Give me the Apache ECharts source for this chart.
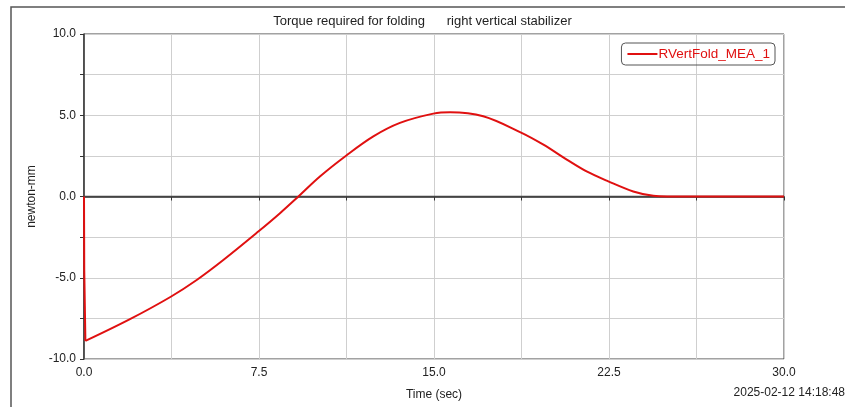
<!DOCTYPE html>
<html><head><meta charset="utf-8">
<script src="https://cdn.jsdelivr.net/npm/echarts@6/dist/echarts.min.js"></script>
<style>html,body{margin:0;padding:0;background:#fff}#c{width:845px;height:407px}</style>
</head><body><div id="c"></div>
<script>
const titleText = 'Torque required for folding      right vertical stabilizer';
const seriesName = 'RVertFold_MEA_1';
const xName = 'Time (sec)';
const yName = 'newton-mm';
const stamp = '2025-02-12 14:18:48';
// initial drop (drawn straight)
const spikeTime = [0, 0.01, 0.02, 0.06];
const spikeTorque = [0, -4.5, -4.6, -8.89];
// main response (drawn smooth)
const timeVals = [0.06, 1.97, 3.72, 4.83, 5.97, 7.47, 8.4, 9.19, 10.11, 11.23, 12.4, 13.54, 14.97, 15.69, 17.11, 18.71, 19.69, 20.69, 21.54, 22.47, 23.54, 24.4, 25.0, 30.0];
const torqueVals = [-8.89, -7.55, -6.17, -5.14, -3.91, -2.16, -1.03, 0, 1.23, 2.51, 3.70, 4.53, 5.10, 5.19, 4.94, 3.95, 3.19, 2.27, 1.54, 0.93, 0.31, 0.04, 0, 0];
const spikeData = spikeTime.map((t, i) => [t, spikeTorque[i]]);
const data = timeVals.map((t, i) => [t, torqueVals[i]]);
const font = 'Liberation Sans, Arial, sans-serif';
const red = '#e01010';
const chart = echarts.init(document.getElementById('c'));
chart.setOption({
  animation: false,
  title: { text: titleText, left: 'center', top: 10, textStyle: { fontFamily: font, fontSize: 13, fontWeight: 'normal', color: '#222' } },
  legend: {
    data: [seriesName], right: 70, top: 43, orient: 'vertical',
    borderColor: '#555', borderWidth: 1, borderRadius: 4, padding: [4, 5, 4, 6],
    itemWidth: 30, itemHeight: 2, itemGap: 2, icon: 'rect',
    textStyle: { fontFamily: font, fontSize: 13.5, color: red, padding: [0, 0, 0, -4] }
  },
  grid: { left: 84, right: 61, top: 34, bottom: 48, show: true, borderColor: '#444', borderWidth: 1 },
  xAxis: {
    type: 'value', min: 0, max: 30, interval: 3.75,
    name: xName, nameLocation: 'middle', nameGap: 30,
    nameTextStyle: { fontFamily: font, fontSize: 12, color: '#222' },
    axisLine: { show: true, lineStyle: { color: '#333', width: 1.5 } },
    axisTick: { show: true, length: 4, lineStyle: { color: '#333' } },
    axisLabel: { fontFamily: font, fontSize: 12, color: '#222', margin: 8,
      formatter: v => (Math.abs(v / 7.5 - Math.round(v / 7.5)) < 1e-6) ? v.toFixed(1) : '' },
    splitLine: { show: true, lineStyle: { color: '#cfcfcf', width: 1 } }
  },
  yAxis: {
    type: 'value', min: -10, max: 10, interval: 2.5,
    name: yName, nameLocation: 'middle', nameGap: 45, nameRotate: 90,
    nameTextStyle: { fontFamily: font, fontSize: 12, color: '#222' },
    axisLine: { show: true, lineStyle: { color: '#333', width: 1.5 } },
    axisTick: { show: true, length: 4, lineStyle: { color: '#333' } },
    axisLabel: { fontFamily: font, fontSize: 12, color: '#222', margin: 8,
      formatter: v => (Math.abs(v / 5 - Math.round(v / 5)) < 1e-6) ? v.toFixed(1) : '' },
    splitLine: { show: true, lineStyle: { color: '#cfcfcf', width: 1 } }
  },
  graphic: [
    { type: 'polyline', shape: { points: [[11, 410], [11, 7], [850, 7]] }, style: { stroke: '#555', lineWidth: 1.5, fill: null }, z: 100 },
    { type: 'text', right: 0, top: 387, style: { text: stamp, font: '12px ' + font, fill: '#222' } }
  ],
  series: [
    { name: 'zero', type: 'line', data: [[0, 0], [30, 0]], symbol: 'none', silent: true, z: 1,
      lineStyle: { color: '#444', width: 1.5 } },
    { name: seriesName, type: 'line', data: spikeData, smooth: false, symbol: 'none', z: 3,
      itemStyle: { color: red }, lineStyle: { color: red, width: 2 } },
    { name: seriesName, type: 'line', data: data, smooth: 0.35, symbol: 'none', z: 3,
      itemStyle: { color: red }, lineStyle: { color: red, width: 2 } }
  ]
});
</script></body></html>
